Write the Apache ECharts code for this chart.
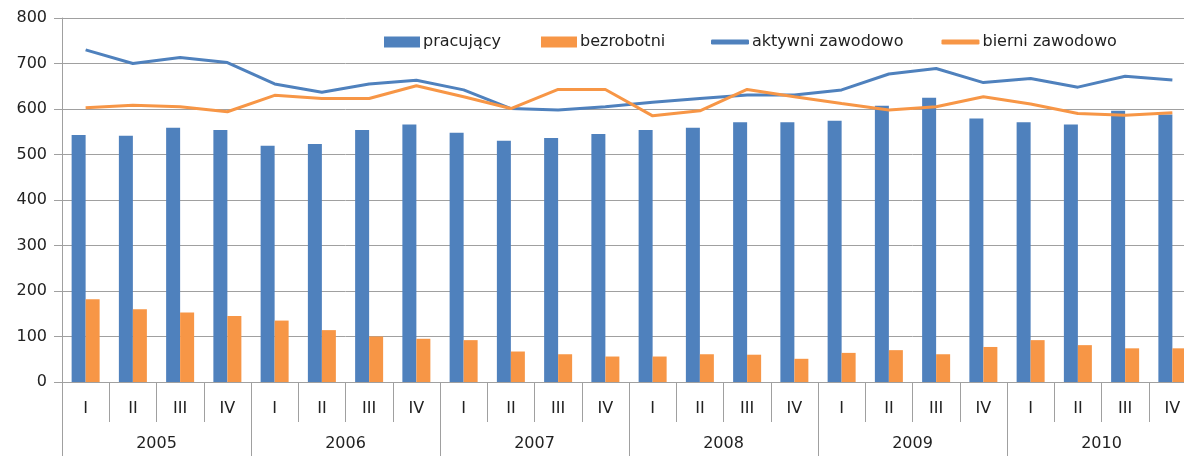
<!DOCTYPE html>
<html style="height: 100%">
    <head>
        <meta charset="utf-8">
    </head>
    <body style="height: 100%; margin: 0; overflow: hidden">
        <!-- chart is a bit wider than the window: last quarter is cut at the right edge -->
        <div id="container" style="width: 1196px; height: 456px"></div>

        <script type="text/javascript" src="https://cdn.jsdelivr.net/npm/echarts@6/dist/echarts.min.js"></script>

        <script type="text/javascript">
var quarters = ['I', 'II', 'III', 'IV', 'I', 'II', 'III', 'IV', 'I', 'II', 'III', 'IV',
                'I', 'II', 'III', 'IV', 'I', 'II', 'III', 'IV', 'I', 'II', 'III', 'IV'];
var years = ['2005', '2006', '2007', '2008', '2009', '2010'];

var pracujacy = [543, 541, 559, 554, 519, 523, 554, 566, 548, 530, 536, 545,
                 554, 559, 571, 571, 574, 607, 625, 579, 571, 566, 596, 588];
var bezrobotni = [182, 160, 153, 145, 135, 114, 100, 95, 92, 67, 61, 56,
                  56, 61, 60, 51, 64, 70, 61, 77, 92, 81, 74, 74];
var aktywni = [730, 700, 713, 702, 655, 637, 655, 663, 642, 601, 598, 605,
               615, 623, 631, 631, 642, 677, 689, 658, 667, 648, 672, 664];
var bierni = [603, 608, 605, 594, 630, 623, 623, 651, 627, 601, 643, 643,
              585, 596, 643, 627, 612, 598, 605, 627, 611, 590, 586, 592];

var blue = '#4F81BD';
var orange = '#F79646';
var gridGray = '#a0a0a0';
var font = 'DejaVu Sans';

var dom = document.getElementById("container");
var myChart = echarts.init(dom);

var legendText = {fontSize: 16, color: '#222', fontFamily: font, padding: [0, 0, 0, -2]};

var option = {
    animation: false,
    backgroundColor: '#fff',
    textStyle: {fontFamily: font},
    legend: [
        {
            left: 379,
            top: 29,
            itemGap: 40,
            itemWidth: 36,
            itemHeight: 11,
            icon: 'rect',
            textStyle: legendText,
            data: ['pracujący', 'bezrobotni']
        },
        {
            left: 706,
            top: 29,
            itemGap: 38,
            itemWidth: 38,
            itemHeight: 5,
            icon: 'roundRect',
            textStyle: legendText,
            data: ['aktywni zawodowo', 'bierni zawodowo']
        }
    ],
    grid: {
        left: 62,
        top: 18,
        right: 0,
        bottom: 74
    },
    xAxis: [
        {
            type: 'category',
            data: quarters,
            position: 'bottom',
            axisLine: {lineStyle: {color: gridGray}},
            axisTick: {show: true, interval: 0, length: 40, lineStyle: {color: gridGray}},
            axisLabel: {interval: 0, margin: 19, fontSize: 16, color: '#222', fontFamily: font}
        },
        {
            type: 'category',
            data: years,
            position: 'bottom',
            axisLine: {show: false},
            axisTick: {show: true, interval: 0, length: 80, lineStyle: {color: gridGray}},
            axisLabel: {interval: 0, margin: 54, fontSize: 16, color: '#222', fontFamily: font}
        }
    ],
    yAxis: {
        type: 'value',
        min: 0,
        max: 800,
        interval: 100,
        axisLine: {show: true, lineStyle: {color: gridGray}},
        axisTick: {show: true, length: 8, lineStyle: {color: gridGray}},
        splitLine: {lineStyle: {color: gridGray}},
        axisLabel: {margin: 15, fontSize: 16, color: '#222', fontFamily: font}
    },
    series: [
        {
            name: 'pracujący',
            type: 'bar',
            data: pracujacy,
            barWidth: 14,
            barGap: '0%',
            itemStyle: {color: blue}
        },
        {
            name: 'bezrobotni',
            type: 'bar',
            data: bezrobotni,
            barWidth: 14,
            barGap: '0%',
            itemStyle: {color: orange}
        },
        {
            name: 'aktywni zawodowo',
            type: 'line',
            data: aktywni,
            symbol: 'none',
            lineStyle: {color: blue, width: 3},
            itemStyle: {color: blue},
            z: 5
        },
        {
            name: 'bierni zawodowo',
            type: 'line',
            data: bierni,
            symbol: 'none',
            lineStyle: {color: orange, width: 3},
            itemStyle: {color: orange},
            z: 5
        }
    ]
};

myChart.setOption(option);
        </script>
    </body>
</html>
